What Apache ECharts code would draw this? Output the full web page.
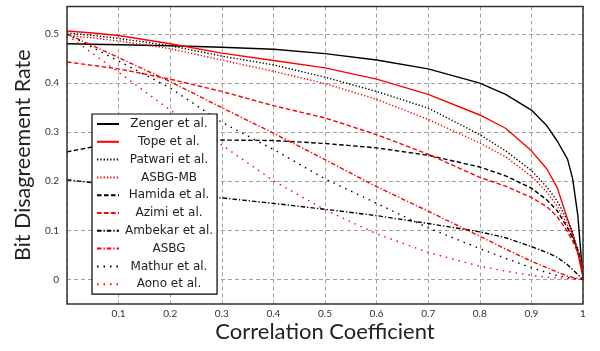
<!DOCTYPE html>
<html>
<head>
<meta charset="utf-8">
<script src="https://cdn.jsdelivr.net/npm/echarts@6/dist/echarts.min.js"></script>
<style>html,body{margin:0;padding:0;background:#fff}#c{width:600px;height:351px}</style>
</head>
<body>
<div id="c"></div>
<script>
// Correlation coefficient sample points
var xs = [0, 0.05, 0.1, 0.2, 0.3, 0.4, 0.5, 0.6, 0.7, 0.8, 0.85, 0.9, 0.93, 0.95, 0.97, 0.98, 0.99, 1];

var names = ['Zenger et al.', 'Tope et al.', 'Patwari et al.', 'ASBG-MB', 'Hamida et al.',
             'Azimi et al.', 'Ambekar et al.', 'ASBG', 'Mathur et al.', 'Aono et al.'];

var zenger  = [0.480,0.479,0.478,0.476,0.473,0.469,0.460,0.447,0.429,0.400,0.377,0.345,0.313,0.282,0.245,0.205,0.130,0.000];
var tope    = [0.506,0.502,0.497,0.480,0.461,0.446,0.431,0.408,0.377,0.335,0.308,0.262,0.225,0.187,0.123,0.092,0.053,0.005];
var patwari = [0.502,0.497,0.491,0.476,0.455,0.437,0.412,0.383,0.349,0.295,0.262,0.222,0.188,0.160,0.120,0.095,0.060,0.015];
var asbgmb  = [0.497,0.492,0.486,0.470,0.447,0.424,0.399,0.367,0.326,0.278,0.250,0.210,0.178,0.150,0.110,0.085,0.055,0.015];
var hamida  = [0.260,0.270,0.275,0.282,0.284,0.283,0.277,0.268,0.253,0.229,0.211,0.186,0.162,0.140,0.105,0.085,0.060,0.025];
var azimi   = [0.443,0.436,0.429,0.408,0.383,0.354,0.329,0.295,0.255,0.208,0.190,0.167,0.148,0.128,0.097,0.078,0.055,0.020];
var ambekar = [0.203,0.197,0.191,0.178,0.166,0.155,0.143,0.130,0.114,0.097,0.085,0.067,0.055,0.045,0.030,0.020,0.010,0.000];
var asbg    = [0.500,0.476,0.452,0.403,0.350,0.298,0.244,0.189,0.139,0.088,0.062,0.037,0.024,0.015,0.007,0.004,0.002,0.000];
var mathur  = [0.500,0.472,0.445,0.390,0.320,0.265,0.205,0.155,0.105,0.063,0.043,0.024,0.014,0.008,0.004,0.002,0.001,0.000];
var aono    = [0.498,0.460,0.422,0.345,0.274,0.201,0.142,0.093,0.055,0.027,0.017,0.008,0.005,0.003,0.002,0.001,0.001,0.000];

var yTicks = [0, 0.1, 0.2, 0.3, 0.4, 0.5];

var allValues = [zenger, tope, patwari, asbgmb, hamida, azimi, ambekar, asbg, mathur, aono];
var colors = ['#000000','#ff0000','#000000','#ff0000','#000000','#ff0000','#000000','#ff0000','#000000','#ff0000'];
var dashes = ['solid','solid',[1.3,2],[1.3,2],[4.5,2.5],[4.5,2.5],[4.5,2,1.3,2],[4.5,2,1.3,2],[1.5,5],[1.5,5]];

var series = [{
  type: 'line', name: '_grid', data: [], silent: true, z: 1,
  markLine: {
    silent: true, symbol: 'none', label: {show: false},
    lineStyle: {color: '#a0a0a0', type: [4, 3], width: 1},
    animation: false,
    data: yTicks.map(function (v) { return {yAxis: v}; })
  }
}];
allValues.forEach(function (vals, k) {
  series.push({
    type: 'line', name: names[k], showSymbol: false, symbol: 'none', z: 5,
    animation: false,
    lineStyle: {color: colors[k], width: 1.4, type: dashes[k]},
    itemStyle: {color: colors[k]},
    data: xs.map(function (x, i) { return [x, vals[i]]; })
  });
});

var chart = echarts.init(document.getElementById('c'), null, {renderer: 'canvas'});
chart.setOption({
  animation: false,
  backgroundColor: '#fff',
  textStyle: {fontFamily: 'Lato'},
  grid: {left: 67, right: 17, top: 6.5, bottom: 47, show: true, borderColor: '#333', borderWidth: 1.5, backgroundColor: 'transparent', z: 10},
  xAxis: {
    type: 'value', min: 0, max: 1, interval: 0.1,
    name: 'Correlation Coefficient', nameLocation: 'middle', nameGap: 17, nameMoveOverlap: false,
    nameTextStyle: {fontSize: 22, color: '#222', fontFamily: 'Lato'},
    axisLine: {show: false}, axisTick: {show: false},
    axisLabel: {fontSize: 10, color: '#333', margin: 5, formatter: function (v) {
      var r = Math.round(v * 10) / 10;
      if (r === 0) return '';
      if (r === 1) return '1';
      return r.toFixed(1);
    }},
    splitLine: {show: true, lineStyle: {color: '#a0a0a0', type: [4, 3], width: 1}}
  },
  yAxis: {
    type: 'value', min: -0.05, max: 0.556, interval: 0.05,
    name: 'Bit Disagreement Rate', nameLocation: 'middle', nameGap: 33,
    nameTextStyle: {fontSize: 21.5, color: '#222', fontFamily: 'Lato'},
    axisLine: {show: false}, axisTick: {show: false},
    axisLabel: {fontSize: 10, color: '#333', margin: 8, formatter: function (v) {
      var t = Math.round(v * 10);
      if (Math.abs(t - v * 10) > 1e-6 || t < 0 || t > 5) return '';
      return t === 0 ? '0' : (t / 10).toFixed(1);
    }},
    splitLine: {show: false}
  },
  legend: {
    data: names, orient: 'vertical', left: 92, top: 114,
    itemWidth: 22, itemHeight: 14, itemGap: 5.8,
    padding: [4, 4, 4, 4],
    itemStyle: {opacity: 0},
    borderColor: '#000', borderWidth: 1.2, backgroundColor: '#fff',
    textStyle: {fontSize: 12, color: '#222', fontFamily: 'DejaVu Sans', rich: {c: {width: 90, align: 'center', fontSize: 12, fontFamily: 'DejaVu Sans', color: '#222'}}},
    formatter: function (n) { return '{c|' + n + '}'; },
    z: 20
  },
  series: series
});
</script>
</body>
</html>
